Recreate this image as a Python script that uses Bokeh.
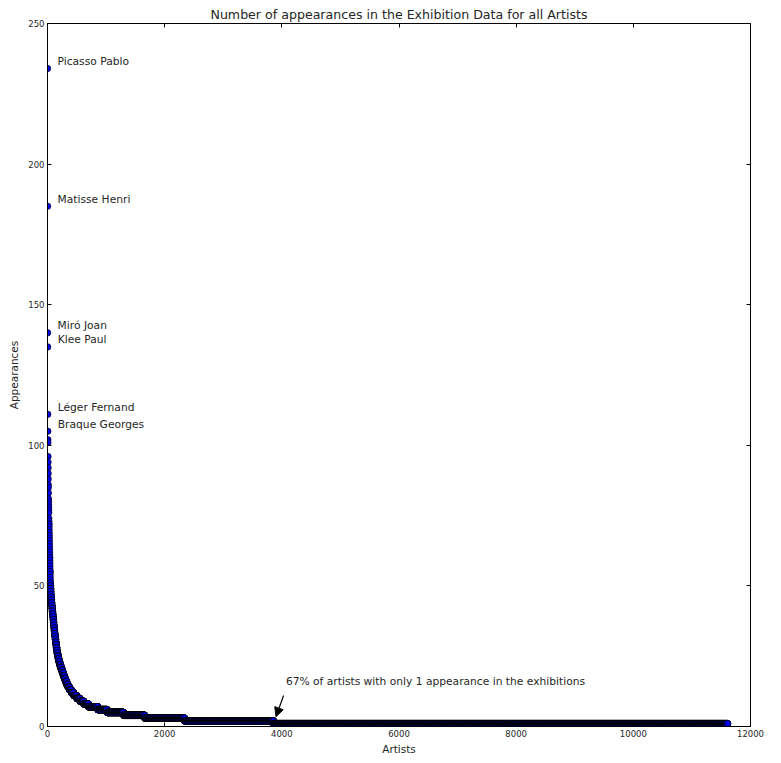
import numpy as np
from bokeh.plotting import figure
from bokeh.models import (ColumnDataSource, LinearAxis, FixedTicker, Arrow,
                          NormalHead, Label, CustomJSTickFormatter)
from bokeh.embed import file_html
from bokeh.resources import INLINE

# ---- data ----
# top artists: appearances of the highest ranked artists (rank 0, 1, ...)
top_values = [234, 185, 140, 135, 111, 105, 102, 101, 96, 94, 92, 90, 88, 86,
              85, 83, 81, 80, 79, 78, 77, 76, 74, 73, 72, 72, 71, 70, 69, 68,
              67, 66, 65, 64, 63, 62, 61, 60, 60, 59, 58, 57, 56, 55, 55, 54,
              53, 52, 51, 51]
# remaining artists: number of artists having each appearance count
tail_values = [50, 49, 48, 47, 46, 45, 44, 43, 42, 41, 40, 39, 38, 37, 36,
               35, 34, 33, 32, 31, 30, 29, 28, 27, 26, 25, 24, 23, 22, 21,
               20, 19, 18, 17, 16, 15, 14, 13, 12, 11, 10, 9, 8, 7, 6, 5, 4,
               3, 2, 1]
tail_counts = [3, 3, 3, 3, 4, 4, 4, 4, 5, 5, 5, 5, 4, 5, 5,
               5, 5, 6, 6, 6, 6, 6, 7, 7, 9, 10, 11, 13, 15, 16,
               16, 16, 18, 18, 20, 22, 28, 32, 40, 50, 55, 65, 80, 160, 160,
               280, 360, 680, 1520, 7750]
label_names = ["Picasso Pablo", "Matisse Henri", "Miró Joan", "Klee Paul",
               "Léger Fernand", "Braque Georges"]
x_ticks = [0, 2000, 4000, 6000, 8000, 10000, 12000]
y_ticks = [0, 50, 100, 150, 200, 250]
annotation_text = "67% of artists with only 1 appearance in the exhibitions"

appearances = np.concatenate([np.array(top_values),
                              np.repeat(tail_values, tail_counts)])
ranks = np.arange(len(appearances))
src = ColumnDataSource(dict(x=ranks, y=appearances))

FONT = "DejaVu Sans"
TXT = "#262626"

p = figure(width=781, height=763, output_backend="svg", toolbar_location=None,
           x_range=(0, 12000), y_range=(0, 250),
           min_border_left=47, min_border_right=31, min_border_top=23,
           min_border_bottom=37, x_axis_location=None, y_axis_location=None,
           title="Number of appearances in the Exhibition Data for all Artists")
p.title.align = "center"
p.title.text_font = FONT
p.title.text_font_size = "12.6px"
p.title.text_font_style = "normal"
p.title.text_color = TXT
p.title.standoff = 3
p.title.offset = 0
p.xgrid.visible = False
p.ygrid.visible = False
p.outline_line_color = "black"
p.outline_line_width = 1
p.outline_line_alpha = 1
p.background_fill_color = "white"
p.border_fill_color = "white"

blank = CustomJSTickFormatter(code="return '';")

def style_axis(ax, labels=True):
    ax.axis_line_color = "black"
    ax.major_tick_line_color = "black"
    ax.major_tick_in = 4
    ax.major_tick_out = 0
    ax.minor_tick_line_color = None
    ax.major_label_text_font = FONT
    ax.major_label_text_font_size = "8.5px"
    ax.major_label_text_color = TXT
    ax.major_label_standoff = 3
    ax.axis_label_text_font = FONT
    ax.axis_label_text_font_size = "10.5px"
    ax.axis_label_text_font_style = "normal"
    ax.axis_label_text_color = TXT
    if not labels:
        ax.formatter = blank
        ax.major_label_standoff = 0

xb = LinearAxis(ticker=FixedTicker(ticks=x_ticks), axis_label="Artists")
style_axis(xb)
xb.axis_label_standoff = 3
yl = LinearAxis(ticker=FixedTicker(ticks=y_ticks), axis_label="Appearances")
style_axis(yl)
yl.axis_label_standoff = 5
xt = LinearAxis(ticker=FixedTicker(ticks=x_ticks))
style_axis(xt, labels=False)
yr = LinearAxis(ticker=FixedTicker(ticks=y_ticks))
style_axis(yr, labels=False)
p.add_layout(xb, "below")
p.add_layout(yl, "left")
p.add_layout(xt, "above")
p.add_layout(yr, "right")

p.scatter("x", "y", source=src, size=6.5, fill_color="#0000ee",
          line_color="black", line_width=0.6)

for i, name in enumerate(label_names):
    p.add_layout(Label(x=ranks[i], y=appearances[i], text=name,
                       x_offset=10, y_offset=7, text_baseline="middle",
                       text_font=FONT, text_font_size="10.7px",
                       text_color=TXT))

n_multi = int((appearances > 1).sum())
p.add_layout(Label(x=4070, y=16, text=annotation_text, text_baseline="middle",
                   text_font=FONT, text_font_size="10.7px", text_color=TXT))
p.add_layout(Arrow(end=NormalHead(size=9, fill_color="black",
                                  line_color="black"),
                   x_start=4030, y_start=11, x_end=n_multi + 40, y_end=3.5,
                   line_color="black", line_width=1.2))

open("out.html", "w").write(file_html(p, INLINE))
